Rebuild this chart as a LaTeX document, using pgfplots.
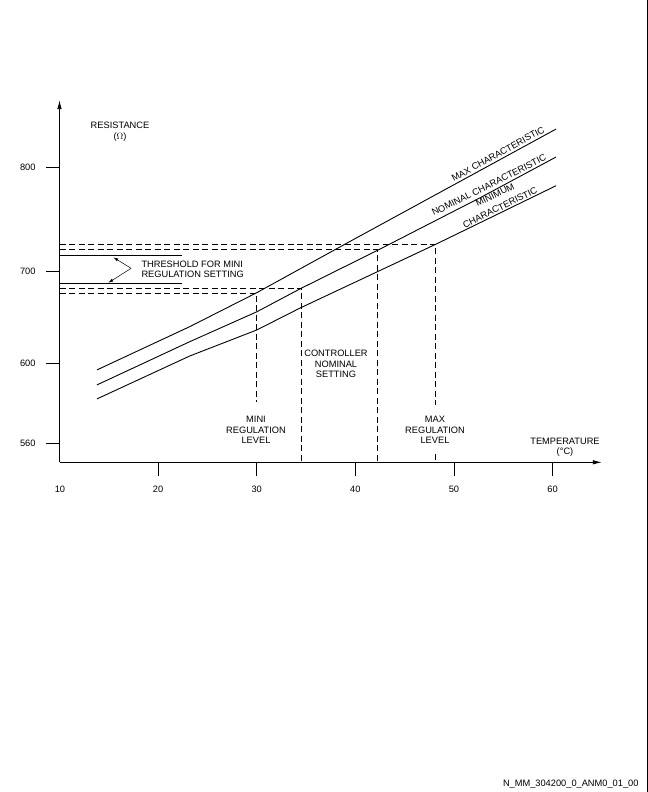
\documentclass[border=0pt]{standalone}
\usepackage{fontspec}
\setmainfont{Liberation Sans}
\usepackage{pgfplots}
\pgfplotsset{compat=1.18}
\usetikzlibrary{arrows.meta}

% curves: temperature (deg C) vs resistance (Ohm)
\pgfplotstableread{
x y
13.8 596.7
23.2 639.7
30.0 676.5
39.1 726.6
60.35 836.5
}\maxchar
\pgfplotstableread{
x y
13.8 589.2
23.2 623.4
30.0 655.8
34.56 681.6
42.17 719.5
52.6 770.2
60.35 809.6
}\nomchar
\pgfplotstableread{
x y
13.8 582.2
23.2 607.9
30.0 636.1
34.4 659.9
48.15 725.7
60.35 782.0
}\minchar

\begin{document}
\begin{tikzpicture}[font=\fontsize{9.3}{10.5}\selectfont]
\begin{axis}[
  at={(0,0)}, anchor=south west,
  scale only axis, width=542.3bp, height=362.2bp,
  xmin=10, xmax=65, ymin=550.5, ymax=864.4,
  y coord trafo/.code={\pgfmathparse{99+2*min(#1-600,0)+0.923*max(min(#1,700)-600,0)+1.04*max(#1-700,0)}},
  axis lines=left,
  axis line style={line width=0.8bp, -{Latex[length=9bp,width=4.5bp]}},
  xtick={20,30,40,50,60},
  ytick={560,600,700,800}, yticklabels={560,600,700,800},
  tick align=outside, major tick length=14bp,
  tick style={line width=0.8bp, black},
  /pgf/number format/assume math mode=true,
  xticklabel style={yshift=-6bp},
  yticklabel style={xshift=-6.5bp},
  clip=false,
]
\addplot[black, line width=0.9bp] table {\maxchar};
\addplot[black, line width=0.9bp] table {\nomchar};
\addplot[black, line width=0.9bp] table {\minchar};
% threshold solid lines
\addplot[black, line width=0.8bp] coordinates {(10,715.4) (22.4,715.4)};
\addplot[black, line width=0.8bp] coordinates {(10,686.7) (22.4,686.7)};
% threshold arrows
\addplot[black, line width=0.5bp, -{Latex[length=5bp,width=3bp]}] coordinates {(17.26,702.6) (15.46,713.2)};
\addplot[black, line width=0.5bp, -{Latex[length=5bp,width=3bp]}] coordinates {(17.26,702.6) (14.95,687.3)};
% dashed lines
\addplot[black, line width=0.8bp, dash pattern=on 6bp off 3.5bp] coordinates {(10,725.7) (48.15,725.7) (48.15,579.2)};
\addplot[black, line width=0.8bp, dash pattern=on 6bp off 3.5bp] coordinates {(48.15,554.7) (48.15,550.5)};
\addplot[black, line width=0.8bp, dash pattern=on 6bp off 3.5bp] coordinates {(10,720.5) (42.2,720.5) (42.2,550.5)};
\addplot[black, line width=0.8bp, dash pattern=on 6bp off 3.5bp] coordinates {(10,681.3) (34.56,681.3) (34.56,550.5)};
\addplot[black, line width=0.8bp, dash pattern=on 6bp off 3.5bp] coordinates {(10,675.9) (30.0,675.9) (30.0,580.6)};
\end{axis}
\begin{scope}[shift={(-59.5bp,462.3bp)}, x=1bp, y=-1bp]
\path[use as bounding box] (0,0) rectangle (648,792);
\draw[line width=1bp] (647.3,0) -- (647.3,792);
\node at (60,489.5) {10};
\node[align=center] at (120,131.5) {RESISTANCE\\($\Omega$)};
\node[anchor=west, align=left] at (138,269.5) {THRESHOLD FOR MINI\\REGULATION SETTING};
\node[align=center] at (256,430) {MINI\\REGULATION\\LEVEL};
\node[align=center] at (336,364) {CONTROLLER\\NOMINAL\\SETTING};
\node[align=center] at (435,430) {MAX\\REGULATION\\LEVEL};
\node[align=center] at (565,447.5) {TEMPERATURE\\(°C)};
\node[rotate=28.7, inner sep=0pt] at (498,154) {MAX CHARACTERISTIC};
\node[rotate=26.5, inner sep=0pt] at (489,185) {NOMINAL CHARACTERISTIC};
\node[rotate=26, inner sep=0pt] at (495,195) {MINIMUM};
\node[rotate=26, inner sep=0pt] at (500,207.5) {CHARACTERISTIC};
\node[anchor=east] at (642,784) {N\_MM\_304200\_0\_ANM0\_01\_00};
\end{scope}
\end{tikzpicture}
\end{document}
